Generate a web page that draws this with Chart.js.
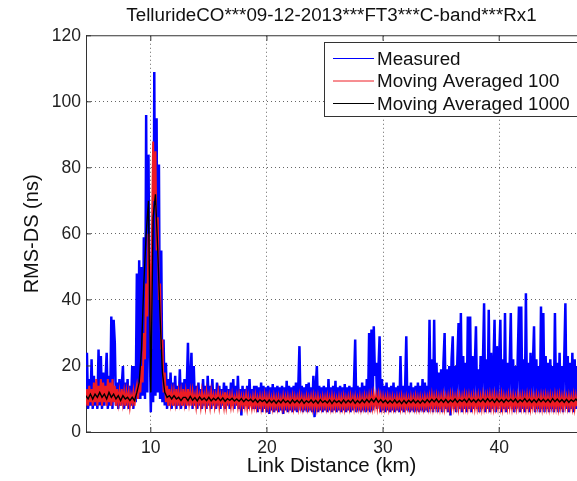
<!DOCTYPE html>
<html lang="en">
<head>
<meta charset="UTF-8">
<title>RMS-DS vs link distance</title>
<script src="https://cdn.jsdelivr.net/npm/chart.js@4.4.1/dist/chart.umd.min.js"></script>
<style>
  html, body { margin: 0; padding: 0; background: #fff; }
  #chart { display: block; }
</style>
</head>
<body>
<canvas id="chart" width="577" height="481"></canvas>
<script>
const chartTitle = 'TellurideCO***09-12-2013***FT3***C-band***Rx1';
const xTitle = 'Link Distance (km)';
const yTitle = 'RMS-DS (ns)';
const seriesNames = ['Measured', 'Moving Averaged 100', 'Moving Averaged 1000'];
const xTicks = [10, 20, 30, 40];
const yTicks = [0, 20, 40, 60, 80, 100, 120];
const xRange = [4.42, 46.7];

// sampling grid (km): measured and MA100 every 0.1 km, MA1000 every 0.2 km
const kmStart = 4.4;
const kmStep = 0.1;
const kmStep1000 = 0.2;

// RMS delay spread (ns), one row per km
const measured = [
  8, 24, 7, 16, 8, 22,
  7, 17, 8, 15, 7, 25, 8, 23, 7, 18,
  8, 16, 24, 7, 17, 8, 35, 7, 34, 27,
  8, 15, 7, 16, 8, 14, 20, 7, 15, 8,
  16, 7, 14, 8, 20, 7, 20, 9, 48, 10,
  52, 10, 50, 11, 59, 10, 96, 12, 84, 30,
  6, 25, 9, 109, 11, 95, 12, 81, 10, 55,
  9, 28, 8, 21, 7, 16, 8, 18, 7, 15,
  8, 17, 7, 14, 8, 19, 7, 15, 8, 16,
  7, 14, 27, 8, 15, 24, 7, 20, 8, 14,
  7, 15, 8, 13, 7, 16, 8, 14, 7, 17,
  8, 14, 7, 16, 8, 13, 7, 15, 8, 14,
  7, 13, 8, 15, 7, 14, 8, 13, 7, 15,
  8, 16, 7, 14, 8, 17, 7, 13, 5, 14,
  7, 13, 8, 14, 7, 16, 8, 13, 7, 14,
  7, 14, 6, 13.5, 7, 15, 6, 14, 7, 13.5,
  6, 14, 5.5, 13.5, 6.5, 14.5, 6, 13.5, 6.5, 14,
  6, 13.5, 6.5, 14, 5.5, 13.5, 6.5, 15.5, 6, 14,
  6.5, 13.5, 6, 14, 6.5, 15, 6, 13.5, 26, 6.5,
  14, 6, 13.5, 6.5, 14.5, 6, 15, 6.5, 13.5, 6,
  17, 4.5, 13.5, 20, 6, 14, 6.5, 13.5, 6, 14,
  6.5, 13.5, 6, 16, 6.5, 13.5, 6, 14, 6.5, 15.5,
  6, 13.5, 6.5, 14, 6, 13.5, 6.5, 14.5, 6, 13.5,
  6.5, 14, 6, 13.5, 6.5, 15, 28, 6, 14, 6.5,
  13.5, 6, 15, 6.5, 14, 6, 16, 6.5, 30, 6,
  31, 6.5, 32, 17, 21, 7, 19, 29, 6, 16,
  6.5, 14, 6, 15, 6.5, 13.5, 6, 14, 6.5, 15,
  6, 13.5, 6.5, 14, 6, 23, 6.5, 14, 6, 13.5,
  29, 6.5, 14, 6, 15, 6.5, 13.5, 6, 14, 6.5,
  15, 6, 14, 6.5, 16, 6, 15, 6.5, 14, 6,
  34, 7, 22, 6, 34, 7, 21, 6, 18, 7,
  19, 6, 21, 30, 7, 19, 6, 20, 5, 22,
  29, 7, 20, 6, 22, 33, 7, 36, 6, 23,
  7, 21, 6, 35, 7, 35, 6, 23, 7, 20,
  32, 7, 19, 6, 23, 7, 21, 39, 6, 22,
  7, 37, 6, 24, 7, 20, 34, 6, 26, 7,
  23, 34, 6, 22, 7, 36, 6, 21, 7, 20,
  36, 7, 22, 6, 20, 7, 23, 38, 6, 38,
  7, 22, 6, 42, 7, 21, 6, 24, 7, 20,
  32, 6, 22, 7, 20, 6, 38, 7, 36, 6,
  23, 7, 21, 6, 22, 7, 20, 6, 36, 7,
  21, 6, 24, 7, 20, 6, 22, 39, 7, 23,
  6, 21, 7, 24, 6, 22, 7, 20, 6, 22
];

const ma100 = [
  8, 13, 8, 14, 9, 13,
  8, 15, 9, 16, 8, 14, 9, 16, 8, 15,
  9, 14, 8, 16, 9, 15, 8, 16, 9, 14,
  8, 13, 9, 12, 8, 13, 9, 12, 8, 12,
  9, 12, 8, 11, 9, 12, 8, 12, 14, 10,
  15, 12, 20, 15, 30, 22, 45, 35, 60, 50,
  25, 60, 88, 70, 85, 55, 65, 40, 45, 25,
  28, 12, 18, 9, 14, 8, 13, 9, 12, 8,
  12, 9, 13, 8, 12, 9, 12, 8, 13, 9,
  12, 8, 13, 9, 12, 8, 12, 9, 11, 8,
  12, 9, 11, 8, 12, 9, 11, 8, 12, 9,
  11, 8, 12, 9, 11, 8, 11, 9, 12, 8,
  11, 9, 11, 8, 12, 8, 11, 9, 11, 8,
  11, 8, 10.5, 9, 11, 8, 11, 8, 10.5, 8,
  10.5, 8, 11, 7.5, 10.5, 8, 10, 7.5, 10.5, 8,
  10.8, 7.8, 10.2, 8, 10.6, 7.6, 10.4, 8, 10.9, 7.7,
  10.3, 7.6, 10.6, 7.9, 10.1, 7.5, 10.5, 7.8, 10.2, 7.6,
  10.4, 7.9, 10.0, 7.5, 10.6, 7.7, 10.3, 7.9, 10.5, 7.6,
  10.1, 7.8, 10.6, 7.6, 10.4, 8.0, 10.2, 7.5, 10.7, 7.8,
  10.3, 7.5, 10.1, 7.9, 10.5, 7.6, 10.2, 7.8, 10.4, 7.5,
  10.6, 7.7, 10.2, 7.4, 10.5, 7.8, 10.0, 7.6, 10.4, 7.9,
  10.2, 7.6, 10.5, 7.8, 10.1, 7.5, 10.6, 7.7, 10.3, 7.6,
  10.0, 7.8, 10.4, 7.5, 10.2, 7.7, 10.5, 7.4, 10.1, 7.8,
  10.3, 7.6, 10.6, 7.9, 10.2, 7.5, 10.4, 7.7, 10.0, 7.6,
  10.5, 7.4, 10.1, 7.7, 10.6, 7.8, 10.3, 7.5, 10.7, 7.9,
  10.9, 7.8, 11.2, 8.0, 10.8, 7.7, 11.0, 7.9, 10.6, 7.6,
  10.4, 7.5, 10.2, 7.8, 10.5, 7.4, 10.1, 7.7, 10.3, 7.5,
  10.0, 7.6, 10.4, 7.8, 10.2, 7.5, 10.5, 7.7, 10.1, 7.4,
  10.3, 7.7, 10.0, 7.5, 10.4, 7.8, 10.2, 7.6, 10.5, 7.5,
  10.1, 7.4, 10.3, 7.7, 10.0, 7.5, 10.4, 7.8, 10.2, 7.6,
  10.6, 7.8, 10.9, 7.6, 10.5, 7.9, 10.7, 7.7, 10.4, 7.5,
  10.5, 7.7, 10.8, 7.5, 10.4, 7.8, 10.6, 7.6, 10.9, 7.7,
  10.7, 7.6, 10.4, 7.8, 10.8, 7.5, 10.6, 7.9, 10.5, 7.7,
  10.9, 7.8, 10.6, 7.6, 10.8, 7.9, 10.5, 7.7, 10.7, 7.5,
  10.4, 7.6, 10.8, 7.8, 10.5, 7.5, 10.9, 7.7, 10.6, 7.8,
  10.8, 7.9, 11.0, 7.7, 10.7, 7.6, 10.9, 7.8, 10.5, 7.6,
  10.6, 7.7, 10.9, 7.5, 10.6, 7.8, 10.4, 7.6, 10.8, 7.7,
  10.5, 7.5, 10.7, 7.8, 10.4, 7.6, 10.8, 7.9, 10.6, 7.7,
  10.7, 7.8, 10.5, 7.6, 10.9, 7.7, 10.6, 7.5, 10.8, 7.8,
  10.4, 7.6, 10.8, 7.9, 10.5, 7.7, 10.7, 7.5, 10.6, 7.8,
  10.8, 7.7, 10.5, 7.5, 10.7, 7.8, 10.4, 7.6, 10.9, 7.7,
  10.6, 7.5, 10.8, 7.8, 10.5, 7.6, 10.7, 7.9, 10.4, 7.7,
  10.7, 7.8, 10.4, 7.6, 10.8, 7.5, 10.6, 7.8, 10.5, 7.6
];

const ma1000 = [
  11, 10, 11.5,
  10, 11.5, 10.5, 12, 10.5,
  11.5, 10, 12, 10.5, 11.5,
  10, 11, 9.5, 11, 10,
  10.5, 9.5, 10.5, 9.5, 12,
  15, 25, 45, 60, 70,
  12, 65, 72, 55, 35,
  18, 12, 10.5, 11, 10,
  11, 10, 10.5, 9.5, 10.5,
  10.5, 9.5, 10.8, 9.6, 10.4,
  9.4, 10.6, 9.7, 10.3, 9.5,
  10.5, 9.4, 10.2, 9.6, 10.4,
  9.5, 10.3, 9.3, 10.1, 9.6,
  10.2, 9.4, 10.0, 9.3, 10.1,
  9.2, 10.0, 9.4, 9.9, 9.1,
  9.9, 9.0, 9.8, 9.2, 9.7,
  8.8, 9.7, 8.9, 9.6, 8.7,
  9.6, 8.8, 9.8, 8.9, 9.5,
  8.7, 9.7, 8.9, 9.6, 8.8,
  9.8, 8.7, 9.5, 8.9, 9.7,
  8.8, 9.6, 8.7, 9.8, 8.9,
  9.5, 8.8, 9.7, 8.6, 9.6,
  8.9, 9.5, 8.7, 9.7, 8.8,
  9.6, 8.9, 9.8, 8.7, 9.5,
  8.8, 9.7, 8.9, 9.9, 9.0,
  10.0, 9.1, 10.2, 9.0, 9.8,
  8.9, 9.6, 8.7, 9.5, 8.8,
  9.7, 8.8, 9.5, 8.6, 9.6,
  8.7, 9.6, 8.9, 9.7, 8.8,
  9.5, 8.7, 9.6, 8.9, 9.8,
  9.0, 9.9, 9.1, 10.0, 9.0,
  9.8, 9.0, 9.9, 8.9, 9.7,
  9.1, 10.0, 9.0, 9.8, 9.2,
  9.9, 9.0, 10.1, 9.1, 9.8,
  9.0, 9.9, 9.2, 10.0, 9.1,
  10.1, 9.2, 9.9, 9.0, 10.0,
  9.1, 9.8, 9.0, 9.9, 9.2,
  9.9, 9.1, 10.0, 9.0, 9.8,
  9.2, 10.1, 9.1, 9.9, 9.0,
  9.8, 9.0, 10.0, 9.2, 9.9,
  9.1, 9.9, 9.0, 10.1, 9.2,
  10.0, 9.1, 9.8, 9.0, 9.9,
  9.0, 9.8, 9.2, 10.0, 9.1
];

const seriesColors = ['#0000ff', '#ee1c24', '#000000'];
const seriesWidths = [2.5, 2.0, 1.4];
const fontFamily = "'Liberation Sans', Arial, sans-serif";

function toPoints(values, step) {
  return values.map((v, i) => ({ x: kmStart + i * step, y: v }));
}

// box top edge, inward tick marks and the in-plot legend (matlab style)
const matlabFrame = {
  id: 'matlabFrame',
  afterDraw(chart) {
    const { ctx, chartArea: a, scales } = chart;
    ctx.save();
    ctx.strokeStyle = '#333';
    ctx.lineWidth = 1;
    ctx.beginPath();
    ctx.moveTo(a.left, a.top);
    ctx.lineTo(a.right, a.top);
    xTicks.forEach(v => {
      const px = scales.x.getPixelForValue(v);
      ctx.moveTo(px, a.bottom); ctx.lineTo(px, a.bottom - 5);
      ctx.moveTo(px, a.top); ctx.lineTo(px, a.top + 5);
    });
    yTicks.forEach(v => {
      const py = scales.y.getPixelForValue(v);
      ctx.moveTo(a.left, py); ctx.lineTo(a.left + 5, py);
    });
    ctx.stroke();

    // legend
    const lx = 324.5, ly = 42.5;
    ctx.fillStyle = '#fff';
    ctx.fillRect(lx, ly, 270, 74);
    ctx.strokeStyle = '#333';
    ctx.strokeRect(lx, ly, 270, 74);
    ctx.font = '18.8px ' + fontFamily;
    ctx.textBaseline = 'middle';
    chart.data.datasets.forEach((ds, i) => {
      const ry = 58.5 + i * 22.5;
      ctx.strokeStyle = ds.borderColor;
      ctx.lineWidth = 1;
      ctx.beginPath();
      ctx.moveTo(333, ry); ctx.lineTo(374, ry);
      ctx.stroke();
      ctx.fillStyle = '#111';
      ctx.fillText(ds.label, 377, ry + 1);
    });
    ctx.restore();
  }
};

Chart.defaults.font.family = fontFamily;
Chart.defaults.color = '#222';

const ctx = document.getElementById('chart').getContext('2d');
new Chart(ctx, {
  type: 'line',
  data: {
    datasets: seriesNames.map((name, i) => ({
      label: name,
      data: toPoints([measured, ma100, ma1000][i], i === 2 ? kmStep1000 : kmStep),
      borderColor: seriesColors[i],
      borderWidth: seriesWidths[i],
      order: 3 - i
    }))
  },
  options: {
    responsive: false,
    animation: false,
    events: [],
    elements: { point: { radius: 0 }, line: { tension: 0, borderJoinStyle: 'miter' } },
    layout: { padding: 0 },
    plugins: {
      legend: { display: false },
      tooltip: { enabled: false },
      title: {
        display: true,
        text: chartTitle,
        fullSize: false,
        color: '#111',
        font: { size: 18.8, weight: 'normal' },
        padding: { top: 5, bottom: 8.2 }
      }
    },
    scales: {
      x: {
        type: 'linear',
        min: xRange[0],
        max: xRange[1],
        afterBuildTicks: s => { s.ticks = xTicks.map(v => ({ value: v })); },
        afterFit: s => { s.height = 49; },
        grid: { color: '#666', lineWidth: 1, drawTicks: false },
        border: { display: true, color: '#333', width: 1, dash: [1, 3] },
        ticks: { font: { size: 17.5 }, color: '#222', padding: 6, maxRotation: 0 },
        title: { display: true, text: xTitle, color: '#111', font: { size: 20.5 }, padding: { top: 0, bottom: 2 } }
      },
      y: {
        min: yTicks[0],
        max: yTicks[yTicks.length - 1],
        afterBuildTicks: s => { s.ticks = yTicks.map(v => ({ value: v })); },
        afterFit: s => { s.width = 86; },
        grid: {
          color: c => (c.tick && (c.tick.value === yTicks[0] || c.tick.value === yTicks[yTicks.length - 1])) ? 'rgba(0,0,0,0)' : '#666',
          lineWidth: 1,
          drawTicks: false
        },
        border: { display: true, color: '#333', width: 1, dash: [1, 3] },
        ticks: { font: { size: 17.5 }, color: '#222', padding: 5 },
        title: { display: true, text: yTitle, color: '#111', font: { size: 20 }, padding: { top: 20, bottom: 0 } }
      }
    }
  },
  plugins: [matlabFrame]
});
</script>
</body>
</html>
